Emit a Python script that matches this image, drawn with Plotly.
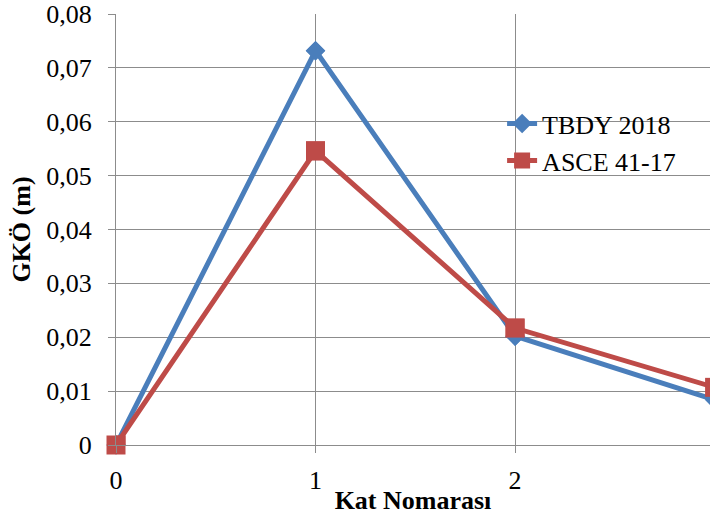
import plotly.graph_objects as go

floors = [0, 1, 2, 3]
tbdy_2018 = [0.0, 0.0732, 0.0202, 0.0084]
asce_41_17 = [0.0, 0.0546, 0.0217, 0.0107]

y_tickvals = [0, 0.01, 0.02, 0.03, 0.04, 0.05, 0.06, 0.07, 0.08]
y_ticktext = ["0", "0,01", "0,02", "0,03", "0,04", "0,05", "0,06", "0,07", "0,08"]
x_tickvals = [0, 1, 2, 3]
x_ticktext = ["0", "1", "2", "3"]

FONT = "Liberation Serif, Times New Roman, serif"
GRID = "#8c8c8c"
BLUE = "#4A7EBB"
RED = "#BE4B48"
X_RANGE = [0, 2.977]

fig = go.Figure()
fig.add_trace(go.Scatter(
    x=floors, y=tbdy_2018, name="TBDY 2018", mode="lines+markers",
    line=dict(color=BLUE, width=5),
    marker=dict(symbol="diamond", size=15, color=BLUE),
))
fig.add_trace(go.Scatter(
    x=floors, y=asce_41_17, name="ASCE 41-17", mode="lines+markers",
    line=dict(color=RED, width=5),
    marker=dict(symbol="square", size=19, color=RED),
))
# same markers drawn unclipped (on an overlaid, hidden x axis) so the
# markers sitting on the axes show in full
fig.add_trace(go.Scatter(
    x=floors, y=tbdy_2018, mode="markers", showlegend=False, hoverinfo="skip",
    marker=dict(symbol="diamond", size=15, color=BLUE), cliponaxis=False,
    xaxis="x2",
))
fig.add_trace(go.Scatter(
    x=floors, y=asce_41_17, mode="markers", showlegend=False, hoverinfo="skip",
    marker=dict(symbol="square", size=19, color=RED), cliponaxis=False,
    xaxis="x2",
))

# white backdrop behind the legend area (hides gridlines like the original)
fig.add_shape(
    type="rect", xref="paper", yref="paper",
    x0=(450 - 116) / 594, x1=1.0, y0=(445 - 176) / 431, y1=(445 - 110) / 431,
    fillcolor="white", line=dict(width=0), layer="between",
)

fig.update_layout(
    width=710, height=515,
    margin=dict(l=116, r=0, t=14, b=70),
    paper_bgcolor="white", plot_bgcolor="white",
    font=dict(family=FONT, size=26, color="black"),
    showlegend=True,
    legend=dict(
        x=0.65, y=0.80, xanchor="left", yanchor="top",
        bgcolor="rgba(255,255,255,0)", font=dict(family=FONT, size=26, color="black"),
        tracegroupgap=0, itemsizing="trace",
    ),
    xaxis=dict(
        range=X_RANGE, tickvals=x_tickvals, ticktext=x_ticktext,
        showgrid=True, gridcolor=GRID, gridwidth=1,
        showline=True, linecolor=GRID, linewidth=1,
        ticks="outside", ticklen=7, tickcolor=GRID,
        zeroline=False, ticklabelstandoff=5,
        title=dict(text="<b>Kat Nomarası</b>", standoff=1,
                   font=dict(family=FONT, size=26)),
    ),
    xaxis2=dict(
        range=X_RANGE, overlaying="x", matches="x", visible=False,
        showgrid=False, zeroline=False,
    ),
    yaxis=dict(
        range=[0, 0.08], tickvals=y_tickvals, ticktext=y_ticktext,
        showgrid=True, gridcolor=GRID, gridwidth=1,
        showline=True, linecolor=GRID, linewidth=1,
        ticks="outside", ticklen=7, tickcolor=GRID,
        zeroline=False, ticklabelstandoff=11,
        title=dict(text="<b>GKÖ (m)</b>", standoff=8,
                   font=dict(family=FONT, size=26)),
    ),
)

fig.write_html("out.html")
